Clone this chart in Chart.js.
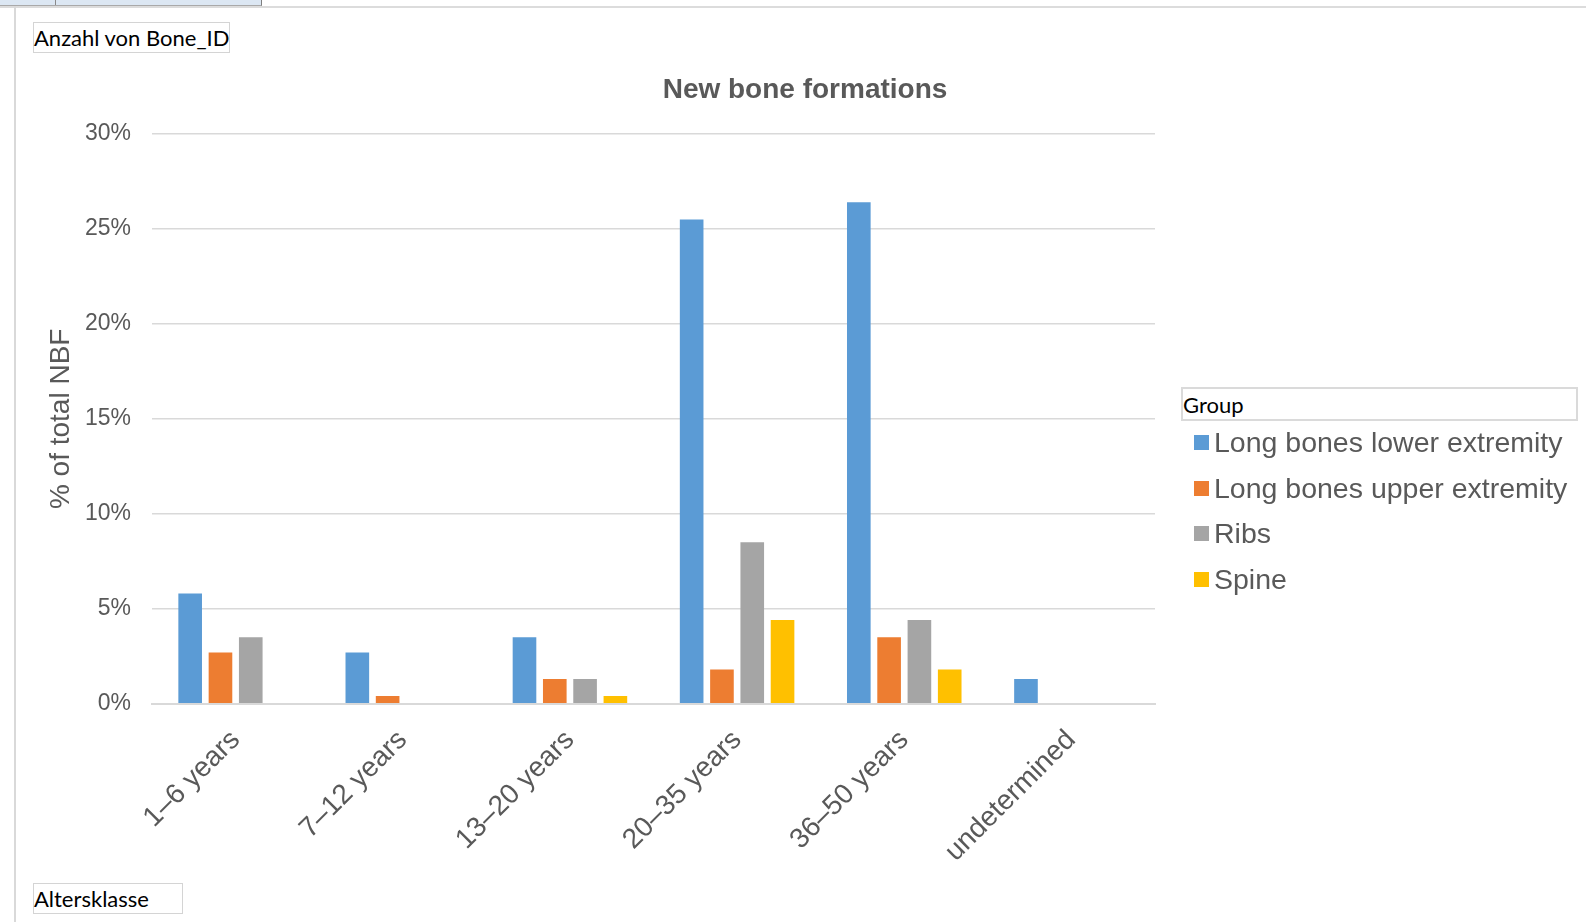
<!DOCTYPE html>
<html>
<head>
<meta charset="utf-8">
<title>New bone formations</title>
<script src="https://cdn.jsdelivr.net/npm/chart.js@4.4.1/dist/chart.umd.min.js"></script>
<style>
  html, body { margin: 0; padding: 0; background: #fff; overflow: hidden; }
  body { position: relative; width: 1586px; height: 922px; }

  /* spreadsheet frame around the pivot chart */
  .tabs { position: absolute; left: 0; top: 0; width: 261px; height: 5px; background: #dce7f3;
          border-right: 1px solid #7f7f7f; border-bottom: 1px solid #a9a9a9; }
  .tab-sep { position: absolute; left: 55px; top: 0; width: 1px; height: 5px; background: #8a8a8a; }
  .sheet-top { position: absolute; left: 0; top: 6px; width: 1586px; height: 2px; background: #dcdcdc; }
  .sheet-left { position: absolute; left: 14px; top: 6px; width: 2px; height: 916px; background: #d9d9d9; }

  /* pivot field buttons */
  .field-btn { position: absolute; box-sizing: border-box; border: 1px solid #d4d4d4; background: #fff;
               color: #000; font-family: Lato, 'Liberation Sans', sans-serif; font-size: 22px;
               display: flex; align-items: center; padding-left: 0; white-space: nowrap; }

  #chartBox { position: absolute; left: 16px; top: 7px; width: 1570px; height: 915px; }

  #legend { position: absolute; left: 1194px; top: 420px; font-family: 'Liberation Sans', Arial, sans-serif;
            font-size: 28.5px; color: #595959; }
  .legend-row { height: 45.6px; display: flex; align-items: center; white-space: nowrap; }
  .legend-swatch { width: 15px; height: 15px; margin-right: 5px; flex: none; }
</style>
</head>
<body>
<div class="tabs"><div class="tab-sep"></div></div>
<div class="sheet-top"></div>
<div class="sheet-left"></div>

<div id="chartBox"><canvas id="boneChart" width="1570" height="915"></canvas></div>

<div class="field-btn" style="left:33px; top:22px; width:197px; height:31px;">Anzahl von Bone_ID</div>
<div class="field-btn" style="left:1181px; top:387px; width:397px; height:34px; border:2px solid #dadada;">Group</div>
<div class="field-btn" style="left:33px; top:883px; width:150px; height:31px;">Altersklasse</div>
<div id="legend"></div>

<script>
// 1. Data (share of all new bone formations, in %)
const ageClasses = ['1–6 years', '7–12 years', '13–20 years', '20–35 years', '36–50 years', 'undetermined'];
const lowerLimbs = [5.8, 2.7, 3.5, 25.5, 26.4, 1.3];
const upperLimbs = [2.7, 0.4, 1.3, 1.8, 3.5, null];
const ribs = [3.5, null, 1.3, 8.5, 4.4, null];
const spine = [null, null, 0.4, 4.4, 1.8, null];

const groupNames = ['Long bones lower extremity', 'Long bones upper extremity', 'Ribs', 'Spine'];
const groupColors = ['#5B9BD5', '#ED7D31', '#A5A5A5', '#FFC000'];

// 2. Shared look
Chart.defaults.font.family = "'Liberation Sans', Arial, sans-serif";
Chart.defaults.color = '#595959';

const textGrey = '#595959';
const gridGrey = '#D9D9D9';

const ctx = document.getElementById('boneChart').getContext('2d');

const boneChart = new Chart(ctx, {
    type: 'bar',
    data: {
        labels: ageClasses,
        datasets: [lowerLimbs, upperLimbs, ribs, spine].map((values, i) => ({
            label: groupNames[i],
            data: values,
            backgroundColor: groupColors[i],
            borderWidth: 0
        }))
    },
    options: {
        responsive: false,
        animation: false,
        layout: { padding: { left: 8, right: 0, top: 0, bottom: 53.5 } },
        datasets: { bar: { categoryPercentage: 0.725, barPercentage: 0.78 } },
        scales: {
            x: {
                grid: { color: 'transparent', tickColor: 'transparent', tickLength: 20 },
                border: { display: true, color: gridGrey, width: 2 },
                ticks: {
                    autoSkip: false, minRotation: 45, maxRotation: 45, padding: 0,
                    color: textGrey, font: { size: 28 }
                }
            },
            y: {
                min: 0,
                max: 30,
                grid: { color: gridGrey, lineWidth: 1.5, tickColor: 'transparent', tickLength: 21 },
                border: { display: false },
                ticks: {
                    stepSize: 5, padding: 0, color: textGrey, font: { size: 23 },
                    callback: (v) => v + '%'
                },
                title: {
                    display: true,
                    text: '% of total NBF',
                    color: textGrey,
                    font: { size: 28 },
                    padding: { top: 20.2, bottom: 7.2 }
                }
            },
            // empty right-hand axis, keeps room for the legend column
            spacer: {
                position: 'right',
                grid: { display: false },
                border: { display: false },
                ticks: { display: false },
                afterFit: (scale) => { scale.width = 431; }
            }
        },
        plugins: {
            legend: { display: false },
            tooltip: { enabled: false },
            title: {
                display: true,
                text: 'New bone formations',
                color: textGrey,
                font: { size: 28, weight: 'bold' },
                padding: { top: 66.2, bottom: 27.2 }
            }
        }
    }
});

// 3. HTML legend built from the chart's datasets
const legendBox = document.getElementById('legend');
Chart.defaults.plugins.legend.labels.generateLabels(boneChart).forEach((item) => {
    const row = document.createElement('div');
    row.className = 'legend-row';
    row.innerHTML = `<span class="legend-swatch" style="background:${item.fillStyle}"></span><span>${item.text}</span>`;
    legendBox.appendChild(row);
});
</script>
</body>
</html>
